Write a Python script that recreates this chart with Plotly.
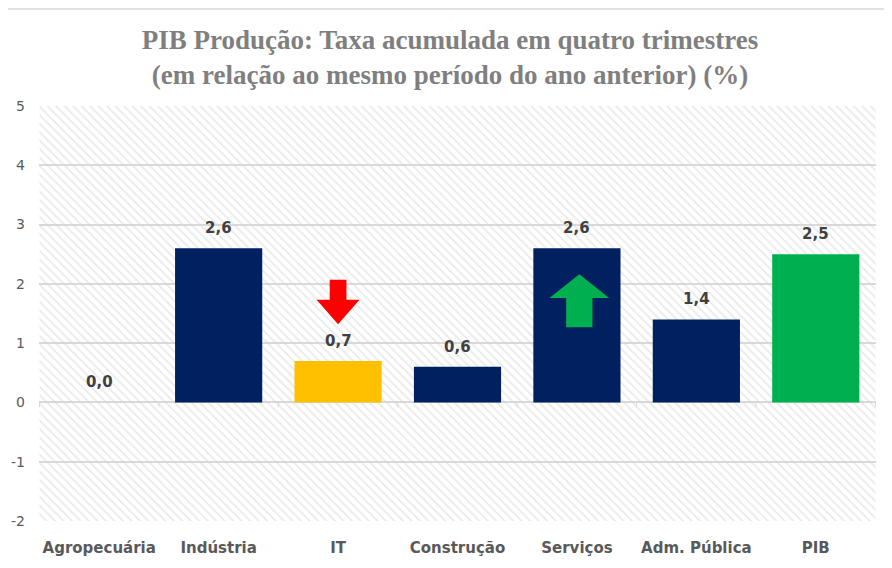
import plotly.graph_objects as go

categories = ["Agropecuária", "Indústria", "IT", "Construção", "Serviços", "Adm. Pública", "PIB"]
values = [0.0, 2.6, 0.7, 0.6, 2.6, 1.4, 2.5]
bar_colors = ["#002060", "#002060", "#FFC000", "#002060", "#002060", "#002060", "#00B050"]
y_ticks = [-2, -1, 0, 1, 2, 3, 4, 5]
y_ticktext = ["-2", "-1", "0", "1", "2", "3", "4", "5"]
y_min, y_max = -2, 5

title_text = "PIB Produção: Taxa acumulada em quatro trimestres<br>(em relação ao mesmo período do ano anterior) (%)"

fig = go.Figure()

# hatched plot background (transparent bg so gridlines show through)
fig.add_trace(go.Bar(
    x=categories, y=[y_max - y_min] * len(categories), base=[y_min] * len(categories),
    width=1.0,
    marker=dict(color="rgba(0,0,0,0)", line=dict(width=0),
                pattern=dict(shape="\\", fgcolor="#d4d4d4", bgcolor="rgba(0,0,0,0)",
                             size=6, solidity=0.3)),
    hoverinfo="skip", showlegend=False,
))

fig.add_trace(go.Bar(
    x=categories, y=values, marker=dict(color=bar_colors, line=dict(width=0)),
    width=0.73, showlegend=False,
))

for c, v in zip(categories, values):
    fig.add_annotation(
        x=c, y=v, text=f"{v:.1f}".replace(".", ","), showarrow=False,
        yshift=20, font=dict(family="DejaVu Sans", size=15, color="#404040", weight="bold"),
    )

ix_it = categories.index("IT")
ix_sv = categories.index("Serviços")

def down_arrow(cx, ytop, ybot):
    sw, hw, hy = 0.07, 0.18, ytop - (ytop - ybot) * 0.45
    return (f"M {cx-sw} {ytop} L {cx+sw} {ytop} L {cx+sw} {hy} L {cx+hw} {hy} "
            f"L {cx} {ybot} L {cx-hw} {hy} L {cx-sw} {hy} Z")

def up_arrow(cx, ybot, ytop):
    sw, hw, hy = 0.11, 0.25, ytop - (ytop - ybot) * 0.45
    return (f"M {cx-sw} {ybot} L {cx+sw} {ybot} L {cx+sw} {hy} L {cx+hw} {hy} "
            f"L {cx} {ytop} L {cx-hw} {hy} L {cx-sw} {hy} Z")

fig.add_shape(type="path", path=down_arrow(ix_it, 2.07, 1.32), xref="x", yref="y",
              fillcolor="#FF0000", line=dict(width=0), layer="above")
fig.add_shape(type="path", path=up_arrow(ix_sv + 0.02, 1.27, 2.16), xref="x", yref="y",
              fillcolor="#00B050", line=dict(width=0), layer="above")

# top border line
fig.add_shape(type="line", xref="paper", yref="paper", x0=-0.1, x1=1.1, y0=1.234, y1=1.234,
              line=dict(color="#d9d9d9", width=1.5))

fig.update_layout(
    width=884, height=560,
    margin=dict(l=31, r=16, t=98, b=47),
    paper_bgcolor="white", plot_bgcolor="white",
    barmode="overlay",
    title=dict(text=title_text, x=0.5, xanchor="center", y=0.927, yanchor="top",
               font=dict(family="Liberation Serif", size=27, color="#7F7F7F", weight="bold")),
    xaxis=dict(type="category", tickfont=dict(family="DejaVu Sans", size=15, color="#595959", weight="bold"),
               showgrid=False, showline=False, ticks="", ticklabelstandoff=16, automargin=False),
    yaxis=dict(range=[y_min, y_max], tickvals=y_ticks, ticktext=y_ticktext,
               tickfont=dict(family="DejaVu Sans", size=14, color="#595959"),
               showgrid=True, gridcolor="#d9d9d9", gridwidth=1.5, zeroline=True, zerolinecolor="#d9d9d9",
               zerolinewidth=1.5, ticks="", showline=False, ticklabelstandoff=13, automargin=False),
)

# category divider ticks on the zero line
for i in range(len(categories) + 1):
    fig.add_shape(type="line", xref="x", yref="y", x0=i - 0.5, x1=i - 0.5, y0=0, y1=-0.08,
                  line=dict(color="#d9d9d9", width=1))

fig.write_html("out.html")
